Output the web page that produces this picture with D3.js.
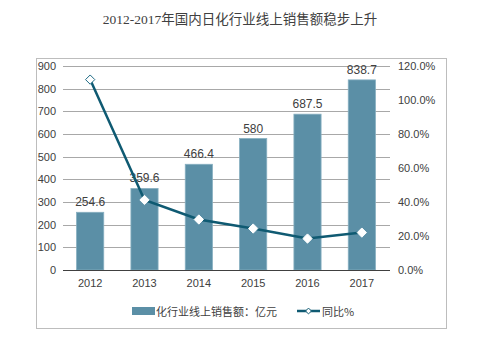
<!DOCTYPE html>
<html><head><meta charset="utf-8">
<script src="https://cdn.jsdelivr.net/npm/d3@7"></script>
<style>body{margin:0;background:#fff;}svg{display:block;}</style>
</head><body>
<script>
const years = ["2012","2013","2014","2015","2016","2017"];
const sales = [254.6, 359.6, 466.4, 580, 687.5, 838.7];
const growth = [112.0, 41.2, 29.7, 24.4, 18.5, 22.0];
const leftTicks = [0,100,200,300,400,500,600,700,800,900];
const rightTicks = [0,20,40,60,80,100,120];
const title = "2012-2017年国内日化行业线上销售额稳步上升";
const seriesBar = "化行业线上销售额：亿元";
const seriesLine = "同比%";

const W = 500, H = 343;
const svg = d3.select("body").append("svg").attr("width", W).attr("height", H);
const font = "Arial, 'Liberation Sans', 'Noto Sans CJK SC', sans-serif";

svg.append("rect").attr("x", 36.5).attr("y", 58.5).attr("width", 410).attr("height", 270)
  .attr("fill", "#fff").attr("stroke", "#bdbdbd").attr("stroke-width", 1);

svg.append("text").attr("x", 240).attr("y", 24).attr("text-anchor", "middle")
  .attr("font-family", "'Liberation Serif','Noto Sans CJK SC',serif").attr("font-size", 13.5)
  .attr("fill", "#404040").text(title);

const x = d3.scaleBand().domain(years).range([63, 389]).paddingInner(0.5).paddingOuter(0.25);
const yL = d3.scaleLinear().domain([0, 900]).range([270, 66]);
const yR = d3.scaleLinear().domain([0, 120]).range([270, 66]);

// gridlines
svg.append("g").selectAll("line").data(leftTicks.filter(d => d > 0)).join("line")
  .attr("x1", 63).attr("x2", 390).attr("y1", d => Math.round(yL(d)) + 0.5).attr("y2", d => Math.round(yL(d)) + 0.5)
  .attr("stroke", "#a8a8a8").attr("stroke-width", 1);

// left axis labels
svg.append("g").selectAll("text").data(leftTicks).join("text")
  .attr("x", 56).attr("y", d => yL(d) + 4).attr("text-anchor", "end")
  .attr("font-family", font).attr("font-size", 11).attr("fill", "#404040").text(d => d);

// right axis labels
svg.append("g").selectAll("text").data(rightTicks).join("text")
  .attr("x", 398).attr("y", d => yR(d) + 4).attr("text-anchor", "start")
  .attr("font-family", font).attr("font-size", 11).attr("fill", "#404040").text(d => d.toFixed(1) + "%");

// bars
svg.append("g").selectAll("rect").data(sales).join("rect")
  .attr("x", (d, i) => x(years[i])).attr("width", x.bandwidth())
  .attr("y", d => yL(d)).attr("height", d => yL(0) - yL(d))
  .attr("fill", "#5b8fa6").attr("stroke", "#86afc0").attr("stroke-width", 0.8);

// bar labels
svg.append("g").selectAll("text").data(sales).join("text")
  .attr("x", (d, i) => x(years[i]) + x.bandwidth() / 2).attr("y", d => yL(d) - 6)
  .attr("text-anchor", "middle").attr("font-family", font).attr("font-size", 12)
  .attr("fill", "#404040").text(d => d);

// baseline
svg.append("line").attr("x1", 63).attr("x2", 390).attr("y1", 270.5).attr("y2", 270.5)
  .attr("stroke", "#404040").attr("stroke-width", 1);

// x labels
svg.append("g").selectAll("text").data(years).join("text")
  .attr("x", d => x(d) + x.bandwidth() / 2).attr("y", 287).attr("text-anchor", "middle")
  .attr("font-family", font).attr("font-size", 11).attr("fill", "#404040").text(d => d);

// line
const line = d3.line().x((d, i) => x(years[i]) + x.bandwidth() / 2).y(d => yR(d));
svg.append("path").datum(growth).attr("d", line).attr("fill", "none")
  .attr("stroke", "#0f5a72").attr("stroke-width", 2.5);
const diamond = d3.symbol().type(d3.symbolDiamond2).size(55);
svg.append("g").selectAll("path").data(growth).join("path")
  .attr("d", diamond)
  .attr("transform", (d, i) => `translate(${x(years[i]) + x.bandwidth() / 2},${yR(d)})`)
  .attr("fill", "#fff").attr("stroke", (d, i) => i === 0 ? "#1f6b85" : "#ffffff").attr("stroke-width", 1);

// legend
const ly = 311;
svg.append("rect").attr("x", 132).attr("y", ly - 4).attr("width", 23).attr("height", 8).attr("fill", "#5b8fa6");
svg.append("text").attr("x", 156).attr("y", ly + 4.5).attr("font-family", "'Noto Sans CJK SC', sans-serif")
  .attr("font-size", 11).attr("fill", "#404040").text(seriesBar);
svg.append("line").attr("x1", 297).attr("x2", 320).attr("y1", ly).attr("y2", ly)
  .attr("stroke", "#0f5a72").attr("stroke-width", 2.5);
svg.append("path").attr("d", d3.symbol().type(d3.symbolDiamond2).size(22)())
  .attr("transform", `translate(308.5,${ly})`).attr("fill", "#fff").attr("stroke", "#0f5a72").attr("stroke-width", 1);
svg.append("text").attr("x", 322).attr("y", ly + 4.5).attr("font-family", "'Noto Sans CJK SC', sans-serif")
  .attr("font-size", 11).attr("fill", "#404040").text(seriesLine);
</script>
</body></html>
